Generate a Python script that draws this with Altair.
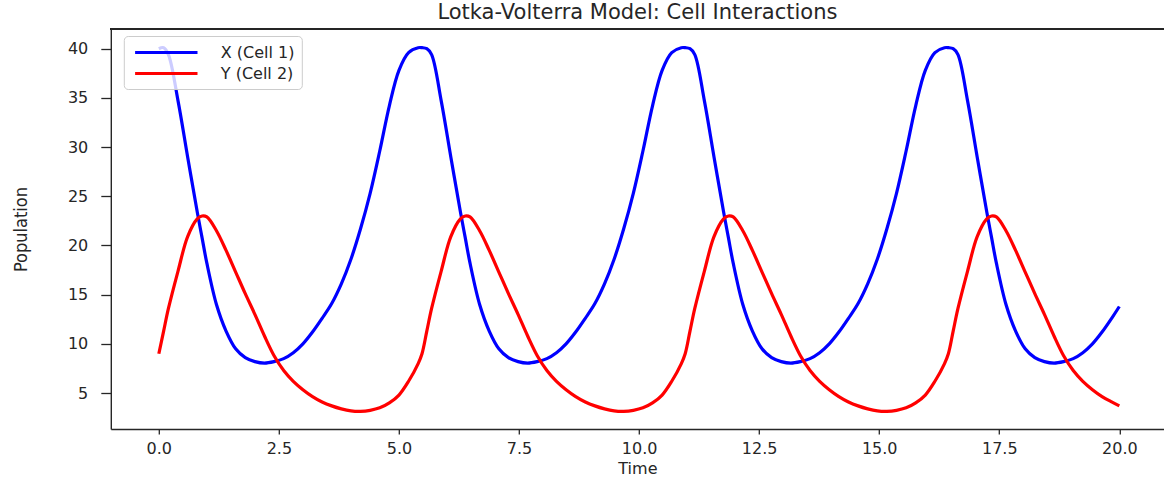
import altair as alt
import pandas as pd

# Simulation output, sampled along the time axis
time = [
    0.0, 0.1, 0.2, 0.4, 0.6, 0.8, 0.9, 1.0, 1.2, 1.4, 1.6, 1.8, 2.0, 2.2, 2.4,
    2.6, 2.8, 3.0, 3.2, 3.4, 3.6, 3.8, 4.0, 4.2, 4.4, 4.6, 4.8, 5.0, 5.2, 5.4,
    5.48, 5.58, 5.68, 5.88, 6.08, 6.28, 6.38, 6.48, 6.68, 6.88, 7.08, 7.28, 7.48, 7.68, 7.88,
    8.08, 8.28, 8.48, 8.68, 8.88, 9.08, 9.28, 9.48, 9.68, 9.88, 10.08, 10.28, 10.48, 10.68, 10.88,
    10.96, 11.06, 11.16, 11.36, 11.56, 11.76, 11.86, 11.96, 12.16, 12.36, 12.56, 12.76, 12.96, 13.16, 13.36,
    13.56, 13.76, 13.96, 14.16, 14.36, 14.56, 14.76, 14.96, 15.16, 15.36, 15.56, 15.76, 15.96, 16.16, 16.36,
    16.44, 16.54, 16.64, 16.84, 17.04, 17.24, 17.34, 17.44, 17.64, 17.84, 18.04, 18.24, 18.44, 18.64, 18.84,
    19.04, 19.24, 19.44, 19.64, 19.84, 20.0,
]

cell_x = [
    40.0, 40.1, 39.4, 34.7, 29.0, 23.4, 20.8, 18.2, 14.0, 11.3, 9.5, 8.6, 8.2, 8.05, 8.2,
    8.5, 9.1, 10.0, 11.2, 12.6, 14.1, 16.1, 18.6, 21.7, 25.3, 29.6, 34.2, 37.8, 39.6, 40.1,
    40.1, 40.0, 39.4, 34.7, 29.0, 23.4, 20.8, 18.2, 14.0, 11.3, 9.5, 8.6, 8.2, 8.05, 8.2,
    8.5, 9.1, 10.0, 11.2, 12.6, 14.1, 16.1, 18.6, 21.7, 25.3, 29.6, 34.2, 37.8, 39.6, 40.1,
    40.1, 40.0, 39.4, 34.7, 29.0, 23.4, 20.8, 18.2, 14.0, 11.3, 9.5, 8.6, 8.2, 8.05, 8.2,
    8.5, 9.1, 10.0, 11.2, 12.6, 14.1, 16.1, 18.6, 21.7, 25.3, 29.6, 34.2, 37.8, 39.6, 40.1,
    40.1, 40.0, 39.4, 34.7, 29.0, 23.4, 20.8, 18.2, 14.0, 11.3, 9.5, 8.6, 8.2, 8.05, 8.2,
    8.5, 9.1, 10.0, 11.2, 12.6, 13.8,
]

cell_y = [
    9.0, 11.3, 13.6, 17.4, 20.9, 22.7, 23.0, 22.9, 21.5, 19.5, 17.3, 15.1, 13.0, 10.8, 8.8,
    7.3, 6.2, 5.35, 4.65, 4.1, 3.7, 3.4, 3.2, 3.15, 3.25, 3.5, 4.0, 4.8, 6.2, 8.0,
    9.0, 11.3, 13.6, 17.4, 20.9, 22.7, 23.0, 22.9, 21.5, 19.5, 17.3, 15.1, 13.0, 10.8, 8.8,
    7.3, 6.2, 5.35, 4.65, 4.1, 3.7, 3.4, 3.2, 3.15, 3.25, 3.5, 4.0, 4.8, 6.2, 8.0,
    9.0, 11.3, 13.6, 17.4, 20.9, 22.7, 23.0, 22.9, 21.5, 19.5, 17.3, 15.1, 13.0, 10.8, 8.8,
    7.3, 6.2, 5.35, 4.65, 4.1, 3.7, 3.4, 3.2, 3.15, 3.25, 3.5, 4.0, 4.8, 6.2, 8.0,
    9.0, 11.3, 13.6, 17.4, 20.9, 22.7, 23.0, 22.9, 21.5, 19.5, 17.3, 15.1, 13.0, 10.8, 8.8,
    7.3, 6.2, 5.35, 4.65, 4.1, 3.7,
]

series_names = ["X (Cell 1)", "Y (Cell 2)"]
series_colors = ["#0000ff", "#ff0000"]
x_ticks = [0.0, 2.5, 5.0, 7.5, 10.0, 12.5, 15.0, 17.5, 20.0]
y_ticks = [5, 10, 15, 20, 25, 30, 35, 40]

n = len(time)
df = pd.DataFrame({
    "Time": time + time,
    "Population": cell_x + cell_y,
    "Series": [series_names[0]] * n + [series_names[1]] * n,
})

PLOT_W = 1053.2
PLOT_H = 400
FONT = "DejaVu Sans"
INK = "#262626"

lines = alt.Chart(df).mark_line(strokeWidth=3.2, interpolate="catmull-rom").encode(
    x=alt.X(
        "Time:Q",
        title="Time",
        scale=alt.Scale(domain=[-1, 20.93], nice=False, zero=False),
        axis=alt.Axis(
            values=x_ticks, format=".1f", grid=False, tickSize=5, labelPadding=6,
            titleY=44, titleBaseline="alphabetic",
        ),
    ),
    y=alt.Y(
        "Population:Q",
        title="Population",
        scale=alt.Scale(domain=[1.35, 42.0], nice=False, zero=False),
        axis=alt.Axis(
            values=y_ticks, grid=False, tickSize=10, labelPadding=13,
            titleX=-84, titleY=200, titleBaseline="alphabetic",
            titleFont="Liberation Sans Narrow, DejaVu Sans Condensed, DejaVu Sans",
            titleFontSize=18,
        ),
    ),
    color=alt.Color(
        "Series:N",
        scale=alt.Scale(domain=series_names, range=series_colors),
        legend=alt.Legend(
            title=None, orient="none", legendX=13, legendY=7, direction="vertical",
            # long horizontal stroke drawn from a compact symbol footprint
            symbolType="M-3.9,0H3.9", symbolSize=256, symbolStrokeWidth=3,
            symbolOffset=26, symbolFillColor="transparent",
            labelFont=FONT, labelFontSize=16, labelColor=INK, labelOffset=45,
            padding=7, rowPadding=3, strokeColor="#cccccc",
            fillColor="rgba(255,255,255,0.8)", cornerRadius=4,
        ),
    ),
)

# upper frame edge of the plot area
top_edge = alt.Chart(df).mark_rule(color=INK, strokeWidth=1.3).encode(
    x=alt.value(0), x2=alt.value(PLOT_W), y=alt.value(0)
)

chart = alt.layer(lines, top_edge).properties(
    width=PLOT_W,
    height=PLOT_H,
    title=alt.TitleParams(
        "Lotka-Volterra Model: Cell Interactions",
        font=FONT, fontSize=21, fontWeight="normal", color=INK,
        anchor="middle", offset=5,
    ),
    autosize=alt.AutoSizeParams(type="none"),
    padding={"left": 110.8, "top": 29, "right": 0, "bottom": 48},
).configure_view(
    stroke=None
).configure_axis(
    labelFont=FONT, labelFontSize=16, labelColor=INK,
    titleFont=FONT, titleFontSize=16, titleColor=INK, titleFontWeight="normal",
    domainColor=INK, domainWidth=1.4, tickColor=INK, tickWidth=1.3,
)

chart.save("out.html", embed_options={"renderer": "svg", "actions": False})
